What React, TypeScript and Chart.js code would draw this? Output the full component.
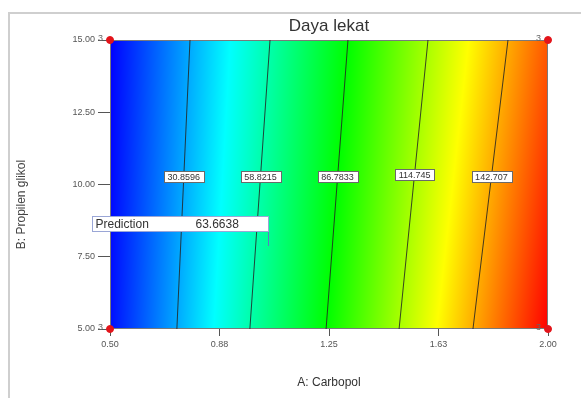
import React, { useEffect, useRef } from 'react';
import { Chart, registerables } from 'chart.js';

Chart.register(...registerables);

const FONT = '"Liberation Sans", Arial, sans-serif';

const chartTitle = 'Daya lekat';
const xAxisTitle = 'A: Carbopol';
const yAxisTitle = 'B: Propilen glikol';

const xRange = [0.5, 2.0];
const yRange = [5, 15];
const xTickValues = [0.5, 0.875, 1.25, 1.625, 2.0];
const xTickLabels = ['0.50', '0.88', '1.25', '1.63', '2.00'];
const yTickValues = [5, 7.5, 10, 12.5, 15];
const yTickLabels = ['5.00', '7.50', '10.00', '12.50', '15.00'];

// contour levels and where each crosses the bottom (B=5) and top (B=15) edges
const contourLevels = [30.8596, 58.8215, 86.7833, 114.745, 142.707];
const contourLabels = ['30.8596', '58.8215', '86.7833', '114.745', '142.707'];
const contourAatBmin = [0.729, 0.979, 1.24, 1.49, 1.743];
const contourAatBmax = [0.774, 1.048, 1.315, 1.589, 1.863];
const contourLabelB = [10.26, 10.26, 10.26, 10.36, 10.26];

// colour map (value -> colour)
const colorStopValues = [3, 45, 87, 129, 171];
const colorStopRGB = [
  [0, 0, 255],
  [0, 255, 255],
  [0, 255, 0],
  [255, 255, 0],
  [255, 0, 0],
];

// design points
const designPointsA = [0.5, 0.5, 2.0, 2.0];
const designPointsB = [5, 15, 5, 15];
const designPointCounts = ['3', '3', '3', '3'];

// prediction flag
const predictionA = 1.041;
const predictionB = 7.87;
const predictionLabel = 'Prediction';
const predictionValue = '63.6638';

function contourAAt(k: number, B: number) {
  const t = (B - yRange[0]) / (yRange[1] - yRange[0]);
  return contourAatBmin[k] + (contourAatBmax[k] - contourAatBmin[k]) * t;
}

function valueAt(A: number, B: number) {
  const n = contourLevels.length;
  const xs = contourLevels.map((_, k) => contourAAt(k, B));
  let i = 0;
  if (A <= xs[0]) i = 0;
  else if (A >= xs[n - 1]) i = n - 2;
  else {
    for (let k = 0; k < n - 1; k++) {
      if (A >= xs[k] && A < xs[k + 1]) { i = k; break; }
    }
  }
  return contourLevels[i] + ((A - xs[i]) * (contourLevels[i + 1] - contourLevels[i])) / (xs[i + 1] - xs[i]);
}

function colorFor(v: number) {
  const s = colorStopValues;
  if (v <= s[0]) return colorStopRGB[0];
  if (v >= s[s.length - 1]) return colorStopRGB[s.length - 1];
  for (let k = 0; k < s.length - 1; k++) {
    if (v >= s[k] && v <= s[k + 1]) {
      const t = (v - s[k]) / (s[k + 1] - s[k]);
      const a = colorStopRGB[k], b = colorStopRGB[k + 1];
      return [a[0] + (b[0] - a[0]) * t, a[1] + (b[1] - a[1]) * t, a[2] + (b[2] - a[2]) * t];
    }
  }
  return colorStopRGB[0];
}

const framePlugin = {
  id: 'frame',
  beforeDraw(chart: any) {
    const { ctx, width, height } = chart;
    ctx.save();
    ctx.strokeStyle = '#cfcfcf';
    ctx.lineWidth = 2;
    ctx.beginPath();
    ctx.moveTo(9, height);
    ctx.lineTo(9, 13);
    ctx.lineTo(width, 13);
    ctx.stroke();
    ctx.restore();
  },
};

const heatmapPlugin = {
  id: 'heatmap',
  beforeDatasetsDraw(chart: any) {
    const { ctx, chartArea: ca, scales } = chart;
    const xs = scales.x, ys = scales.y;
    const left = Math.round(ca.left), top = Math.round(ca.top);
    const w = Math.round(ca.right) - left, h = Math.round(ca.bottom) - top;
    const img = ctx.createImageData(w, h);
    const aCols = new Array(w);
    for (let i = 0; i < w; i++) aCols[i] = xs.getValueForPixel(left + i + 0.5);
    for (let j = 0; j < h; j++) {
      const B = ys.getValueForPixel(top + j + 0.5);
      for (let i = 0; i < w; i++) {
        const c = colorFor(valueAt(aCols[i], B));
        const idx = (j * w + i) * 4;
        img.data[idx] = c[0];
        img.data[idx + 1] = c[1];
        img.data[idx + 2] = c[2];
        img.data[idx + 3] = 255;
      }
    }
    ctx.putImageData(img, left, top);
    ctx.save();
    ctx.strokeStyle = '#7a7a7a';
    ctx.lineWidth = 1;
    ctx.strokeRect(left + 0.5, top + 0.5, w - 1, h - 1);
    ctx.restore();
  },
};

const annotationsPlugin = {
  id: 'annotations',
  afterDatasetsDraw(chart: any) {
    const { ctx, chartArea: ca, scales } = chart;
    const xs = scales.x, ys = scales.y;
    ctx.save();
    // contour labels
    ctx.font = `9px ${FONT}`;
    ctx.textAlign = 'center';
    ctx.textBaseline = 'middle';
    contourLabels.forEach((lab, k) => {
      const B = contourLabelB[k];
      const px = xs.getPixelForValue(contourAAt(k, B));
      const py = ys.getPixelForValue(B);
      const tw = ctx.measureText(lab).width + 7;
      const th = 11;
      ctx.fillStyle = '#ffffff';
      ctx.fillRect(Math.round(px - tw / 2) + 0.5, Math.round(py - th / 2) + 0.5, Math.round(tw), th);
      ctx.strokeStyle = '#6a6a6a';
      ctx.lineWidth = 1;
      ctx.strokeRect(Math.round(px - tw / 2) + 0.5, Math.round(py - th / 2) + 0.5, Math.round(tw), th);
      ctx.fillStyle = '#333333';
      ctx.fillText(lab, px, py + 1);
    });
    // design point counts
    ctx.font = `9px ${FONT}`;
    ctx.textAlign = 'right';
    ctx.fillStyle = '#666666';
    designPointsA.forEach((a, i) => {
      const px = xs.getPixelForValue(a);
      const py = ys.getPixelForValue(designPointsB[i]);
      ctx.fillText(designPointCounts[i], px - 7, py - 1);
    });
    // prediction flag
    const fx = Math.round(xs.getPixelForValue(predictionA)) + 0.5;
    const fy = Math.round(ys.getPixelForValue(predictionB));
    const boxH = 15;
    const boxW = 176;
    const boxBottom = fy - 15;
    ctx.strokeStyle = '#5a7ac8';
    ctx.lineWidth = 1;
    ctx.beginPath();
    ctx.moveTo(fx, boxBottom);
    ctx.lineTo(fx, fy);
    ctx.stroke();
    ctx.fillStyle = '#ffffff';
    ctx.fillRect(fx - boxW, boxBottom - boxH, boxW, boxH);
    ctx.strokeStyle = '#9aa6d6';
    ctx.strokeRect(fx - boxW, boxBottom - boxH + 0.5, boxW, boxH);
    ctx.font = `12px ${FONT}`;
    ctx.fillStyle = '#333333';
    ctx.textAlign = 'left';
    ctx.textBaseline = 'middle';
    ctx.fillText(predictionLabel, fx - boxW + 3, boxBottom - boxH / 2 + 1);
    ctx.fillText(predictionValue, fx - boxW + 103, boxBottom - boxH / 2 + 1);
    ctx.restore();
  },
  afterDraw(chart: any) {
    const { ctx, chartArea: ca } = chart;
    ctx.save();
    ctx.translate(22, (ca.top + ca.bottom) / 2 + 20);
    ctx.rotate(-Math.PI / 2);
    ctx.font = `12px ${FONT}`;
    ctx.fillStyle = '#444444';
    ctx.textAlign = 'center';
    ctx.textBaseline = 'middle';
    ctx.fillText(yAxisTitle, 0, 0);
    ctx.restore();
  },
};

export default function App() {
  const ref = useRef<HTMLCanvasElement>(null);
  useEffect(() => {
    document.body.style.margin = '0';
    Chart.defaults.font.family = FONT;
    const contourDatasets = contourLevels.map((lvl, k) => ({
      label: String(lvl),
      data: [
        { x: contourAatBmin[k], y: yRange[0] },
        { x: contourAatBmax[k], y: yRange[1] },
      ],
      showLine: true,
      borderColor: 'rgba(35,35,35,0.85)',
      borderWidth: 1,
      pointRadius: 0,
    }));
    const designDataset = {
      label: 'Design points',
      data: designPointsA.map((a, i) => ({ x: a, y: designPointsB[i] })),
      showLine: false,
      backgroundColor: '#e3141a',
      borderColor: '#e3141a',
      pointRadius: 3.5,
      clip: false as any,
    };
    const chart = new Chart(ref.current as HTMLCanvasElement, {
      type: 'scatter',
      data: { datasets: [...contourDatasets, designDataset] as any },
      options: {
        animation: false,
        responsive: false,
        devicePixelRatio: 1,
        events: [],
        layout: { padding: { left: 9, right: 33, top: 0, bottom: 0 } },
        plugins: {
          legend: { display: false },
          tooltip: { enabled: false },
          title: {
            display: true,
            text: chartTitle,
            fullSize: false,
            color: '#333333',
            font: { size: 17, weight: 'normal', lineHeight: 1.2 },
            padding: { top: 16, bottom: 3.6 },
          },
        },
        scales: {
          x: {
            type: 'linear',
            min: xRange[0],
            max: xRange[1],
            afterBuildTicks: (s: any) => { s.ticks = xTickValues.map((v) => ({ value: v })); },
            afterFit: (s: any) => { s.height = 69; },
            ticks: {
              callback: (v: any) => xTickLabels[xTickValues.indexOf(Number(v))],
              font: { size: 9 },
              color: '#555555',
              padding: 3,
              maxRotation: 0,
              autoSkip: false,
            },
            grid: { drawOnChartArea: false, drawTicks: true, tickLength: 7, tickColor: '#555555' },
            border: { display: false },
            title: {
              display: true,
              text: xAxisTitle,
              color: '#333333',
              font: { size: 12 },
              padding: { top: 0, bottom: 8 },
            },
          },
          y: {
            type: 'linear',
            min: yRange[0],
            max: yRange[1],
            afterBuildTicks: (s: any) => { s.ticks = yTickValues.map((v) => ({ value: v })); },
            afterFit: (s: any) => { s.width = 101; },
            ticks: {
              callback: (v: any) => yTickLabels[yTickValues.indexOf(Number(v))],
              font: { size: 9 },
              color: '#555555',
              padding: 3,
              autoSkip: false,
            },
            grid: { drawOnChartArea: false, drawTicks: true, tickLength: 12, tickColor: '#555555' },
            border: { display: false },
            title: { display: false },
          },
        },
      },
      plugins: [framePlugin, heatmapPlugin, annotationsPlugin],
    } as any);
    return () => chart.destroy();
  }, []);
  return (
    <div style={{ width: 581, height: 398 }}>
      <canvas ref={ref} width={581} height={398} style={{ display: 'block' }} />
    </div>
  );
}
